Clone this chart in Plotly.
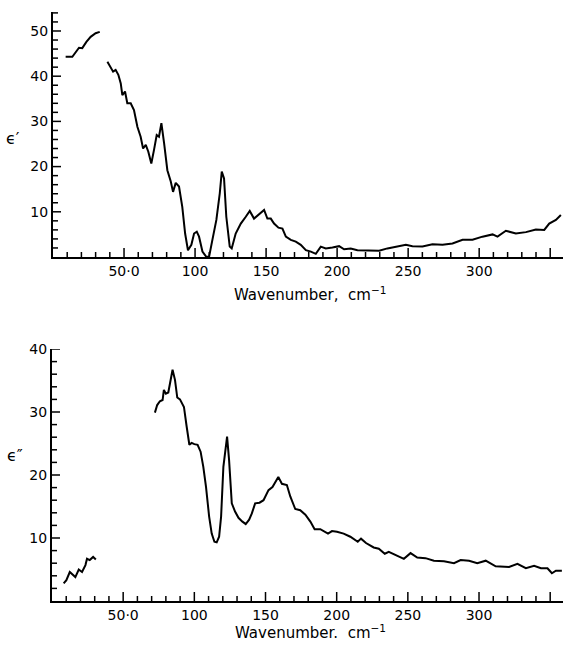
import plotly.graph_objects as go

# epsilon' (top panel)
e1_seg1_x = [8.9, 13.6, 18.3, 20.6, 23.5, 26.5, 30.0, 32.9]
e1_seg1_y = [44.3, 44.3, 46.3, 46.2, 47.6, 48.7, 49.5, 49.8]
e1_seg2_x = [38.3, 40.6, 42.3, 44.1, 46.0, 47.7, 48.8, 50.7, 52.3, 54.7, 57.0, 59.4, 61.7, 63.4, 65.3,
             67.1, 69.2, 71.1, 73.0, 74.6, 76.3, 78.2, 80.5, 82.9, 84.5, 86.4, 88.7, 91.0, 93.0, 95.0,
             97.4, 99.3, 101.2, 102.8, 105.2, 108.0, 109.9, 112.2, 115.0, 117.4, 118.8, 120.4, 122.0,
             124.4, 125.8, 128.6, 132.2, 135.7, 138.5, 141.5, 144.6, 148.6, 150.9, 153.3, 155.6, 158.7,
             161.5, 163.9, 167.4, 170.9, 174.4, 178.0, 181.5, 185.0, 188.5, 192.0, 196.7, 201.4, 204.9,
             209.6, 214.3, 219.0, 223.7, 229.6, 235.4, 241.3, 248.4, 253.0, 260.1, 267.1, 274.2, 281.2,
             288.3, 295.3, 302.3, 309.4, 312.9, 318.8, 325.8, 332.9, 339.9, 345.8, 349.3, 354.0, 357.5]
e1_seg2_y = [43.2, 42.1, 41.0, 41.4, 40.3, 38.4, 35.8, 36.6, 34.0, 34.0, 32.5, 28.8, 26.6, 24.0, 24.8,
             23.3, 20.7, 23.7, 27.0, 26.6, 29.6, 25.2, 19.2, 16.7, 14.4, 16.4, 15.6, 11.1, 5.2, 1.5,
             2.7, 5.2, 5.6, 4.5, 1.2, 0.0, 0.1, 3.8, 8.2, 14.1, 18.9, 17.4, 8.9,
             2.3, 1.9, 5.2, 7.4, 8.9, 10.2, 8.5, 9.3, 10.4, 8.5, 8.5, 7.4, 6.5,
             6.3, 4.5, 3.8, 3.4, 2.7, 1.5, 1.2, 0.7, 2.3, 1.9, 2.1, 2.4, 1.7,
             1.9, 1.5, 1.5, 1.4, 1.4, 1.9, 2.3, 2.7, 2.4, 2.3, 2.8, 2.7, 3.0,
             3.8, 3.8, 4.5, 5.0, 4.5, 5.8, 5.2, 5.5, 6.1, 6.0, 7.4, 8.2, 9.3]

# epsilon'' (bottom panel)
e2_seg1_x = [8.2, 10.1, 12.5, 14.1, 16.4, 18.8, 21.1, 23.5, 24.6, 26.5, 28.9, 30.8]
e2_seg1_y = [2.8, 3.3, 4.6, 4.3, 3.8, 5.0, 4.6, 5.7, 6.7, 6.5, 7.0, 6.6]
e2_seg2_x = [72.3, 73.9, 75.8, 77.7, 78.6, 80.0, 81.7, 83.3, 84.7, 86.4, 88.0, 89.9, 92.7, 94.6, 96.5,
             98.1, 100.0, 102.3, 104.4, 106.3, 108.2, 110.4, 112.2, 114.1, 115.7, 117.4, 118.8, 120.4,
             122.0, 123.0, 124.4, 126.3, 128.6, 131.0, 133.8, 136.1, 138.5, 140.4, 142.7, 145.8, 148.6,
             152.1, 154.9, 156.8, 159.0, 161.5, 165.0, 167.4, 170.9, 174.4, 178.0, 181.5, 184.5, 188.5,
             193.9, 196.7, 200.2, 204.9, 209.6, 214.8, 217.1, 220.6, 226.0, 229.6, 233.8, 236.6, 241.3,
             247.2, 251.9, 256.6, 262.4, 268.3, 275.4, 282.4, 287.1, 293.0, 298.8, 304.7, 311.7, 321.1,
             327.0, 332.9, 338.7, 343.5, 348.1, 351.2, 354.0, 358.2]
e2_seg2_y = [29.9, 31.1, 31.7, 31.9, 33.5, 32.9, 33.1, 35.1, 36.7, 35.1, 32.3, 32.0, 30.8, 27.7, 24.8,
             25.1, 24.9, 24.8, 23.7, 21.3, 18.1, 13.4, 10.7, 9.4, 9.3, 10.2, 13.4, 21.3,
             24.2, 26.1, 22.4, 15.5, 14.2, 13.2, 12.6, 12.2, 12.9, 13.9, 15.5, 15.6, 16.0,
             17.6, 18.1, 18.9, 19.7, 18.6, 18.4, 16.6, 14.6, 14.4, 13.7, 12.6, 11.4, 11.4,
             10.7, 11.1, 11.0, 10.7, 10.2, 9.4, 9.9, 9.2, 8.5, 8.3, 7.5, 7.8, 7.3,
             6.7, 7.6, 6.9, 6.8, 6.4, 6.3, 6.0, 6.5, 6.4, 6.0, 6.4, 5.5, 5.4,
             5.9, 5.2, 5.6, 5.2, 5.2, 4.4, 4.8, 4.8]

# ticks
x_major_ticks = [50, 100, 150, 200, 250, 300, 350]
x_minor_ticks = [v for v in range(10, 360, 10) if v % 50 != 0]
y1_major_ticks = [10, 20, 30, 40, 50]
y1_minor_ticks = [v for v in range(2, 55, 2) if v % 10 != 0]
y2_major_ticks = [10, 20, 30, 40]
y2_minor_ticks = [v for v in range(2, 40, 2) if v % 10 != 0]
# tick label aliases: 50 is printed as "50·0"; 0 and 350 carry no label
x_label_alias = {"0": " ", "50": "50·0", "350": " "}
y_label_alias = {"0": " "}

W, H = 563, 645
FONT = "DejaVu Sans"
line = dict(color="black", width=2)

fig = go.Figure()
for xs, ys in [(e1_seg1_x, e1_seg1_y), (e1_seg2_x, e1_seg2_y)]:
    fig.add_trace(go.Scatter(x=xs, y=ys, mode="lines", line=line, xaxis="x", yaxis="y", showlegend=False))
for xs, ys in [(e2_seg1_x, e2_seg1_y), (e2_seg2_x, e2_seg2_y)]:
    fig.add_trace(go.Scatter(x=xs, y=ys, mode="lines", line=line, xaxis="x2", yaxis="y2", showlegend=False))

def xax(dom, anchor):
    return dict(domain=dom, range=[0, 359], anchor=anchor, showline=True, linecolor="black", linewidth=2,
                automargin=False, showgrid=False, zeroline=False,
                tickmode="linear", tick0=0, dtick=50, labelalias=x_label_alias, ticks="",
                tickangle=0, tickfont=dict(family=FONT, size=14, color="black"))

def yax(dom, anchor, rng):
    return dict(domain=dom, range=rng, anchor=anchor, showline=True, linecolor="black", linewidth=2,
                automargin=False, showgrid=False, zeroline=False,
                tickmode="linear", tick0=0, dtick=10, labelalias=y_label_alias, ticks="",
                tickfont=dict(family=FONT, size=14, color="black"))

top_dom_y = [1 - 257 / H, 1 - 12 / H]
bot_dom_y = [1 - 601 / H, 1 - 349 / H]
top_dom_x = [53 / W, 1.0]
bot_dom_x = [52 / W, 1.0]

fig.update_layout(
    width=W, height=H, margin=dict(l=0, r=0, t=0, b=0, autoexpand=False),
    paper_bgcolor="white", plot_bgcolor="white",
    xaxis=xax(top_dom_x, "y"),
    yaxis=yax(top_dom_y, "x", [0, 54.2]),
    xaxis2=xax(bot_dom_x, "y2"),
    yaxis2=yax(bot_dom_y, "x2", [0, 40]),
)

# inward tick marks drawn as axis-relative shapes
tick_style = dict(color="black", width=1.5)
def add_ticks(xref, yref, plot_w_px, plot_h_px):
    for vals, ln in [(x_major_ticks, 9), (x_minor_ticks, 5)]:
        for v in vals:
            fig.add_shape(type="line", xref=xref, yref=yref + " domain", x0=v, x1=v, y0=0,
                          y1=ln / plot_h_px, line=tick_style, layer="above")

def add_yticks(xref, yref, majors, minors, plot_w_px):
    for vals, ln in [(majors, 8), (minors, 5)]:
        for v in vals:
            fig.add_shape(type="line", xref=xref + " domain", yref=yref, x0=0, x1=ln / plot_w_px,
                          y0=v, y1=v, line=tick_style, layer="above")

add_ticks("x", "y", 510, 245)
add_ticks("x2", "y2", 511, 252)
add_yticks("x", "y", y1_major_ticks, y1_minor_ticks, 510)
add_yticks("x2", "y2", y2_major_ticks, y2_minor_ticks, 511)

def ann(text, px, py, size=15):
    fig.add_annotation(text=text, x=px / W, y=1 - py / H, xref="paper", yref="paper",
                       showarrow=False, font=dict(family=FONT, size=size, color="black"),
                       xanchor="center", yanchor="middle")

ann("Wavenumber,  cm<sup>−1</sup>", 310, 294)
ann("Wavenumber.  cm<sup>−1</sup>", 310, 632)
ann("ϵ′", 13, 138, 16)
ann("ϵ″", 15, 455, 16)

fig.write_html("out.html", config={"displayModeBar": False},
               post_script="document.body.style.margin='0';document.body.style.overflow='hidden';")
